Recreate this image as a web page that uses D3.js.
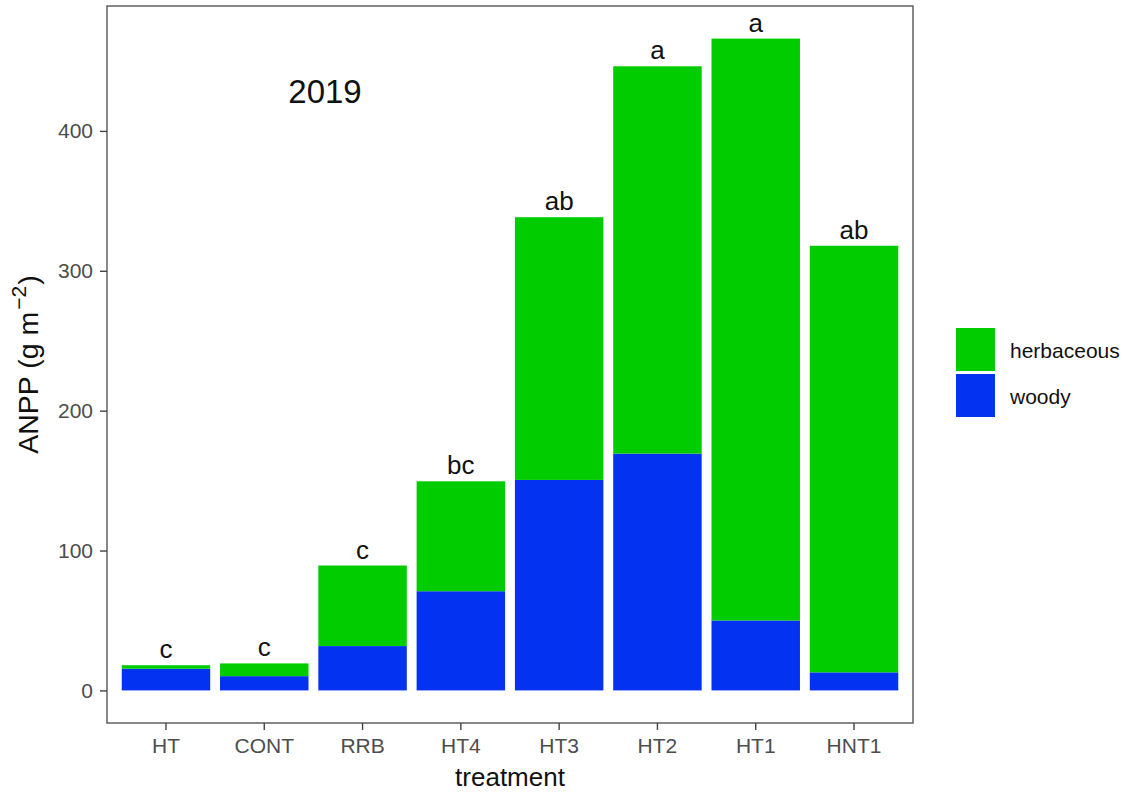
<!DOCTYPE html>
<html>
<head>
<meta charset="utf-8">
<script src="https://cdn.jsdelivr.net/npm/d3@7"></script>
<style>
  html, body { margin: 0; padding: 0; background: #fff; }
  svg { display: block; font-family: "Liberation Sans", Arial, Helvetica, sans-serif; }
</style>
</head>
<body>
<svg id="chart" width="1133" height="793"></svg>
<script>
// Treatments in plotting order
const treatments = ["HT", "CONT", "RRB", "HT4", "HT3", "HT2", "HT1", "HNT1"];
// ANPP components (g m-2)
const woody      = [15.5, 10.2, 31.7, 70.9, 150.5, 169.3, 50.0, 12.9];
const herbaceous = [2.5, 9.1, 57.6, 78.6, 187.8, 276.9, 416.0, 305.0];
// Significance letters above each bar
const letters = ["c", "c", "c", "bc", "ab", "a", "a", "ab"];
// Y-axis tick values
const yTicks = [0, 100, 200, 300, 400];
// Legend entries
const seriesNames = ["herbaceous", "woody"];
const seriesColors = { herbaceous: "#00cc00", woody: "#0332f0" };

const svg = d3.select("#chart");
const panel = { left: 107, right: 913, top: 6, bottom: 723 };

const rows = treatments.map((t, i) => ({
  treatment: t, woody: woody[i], herbaceous: herbaceous[i], letter: letters[i]
}));
const totals = rows.map(r => r.woody + r.herbaceous);
const maxTotal = d3.max(totals);

const x = d3.scaleBand()
  .domain(treatments)
  .range([panel.left, panel.right])
  .paddingInner(0.1)
  .paddingOuter(0.15);

const y = d3.scaleLinear()
  .domain([-0.05 * maxTotal, 1.05 * maxTotal])
  .range([panel.bottom, panel.top]);

// Stacked bars: woody at the bottom, herbaceous on top
const stack = d3.stack().keys(["woody", "herbaceous"]);
const layers = stack(rows);

svg.append("g").selectAll("g")
  .data(layers)
  .join("g")
  .attr("fill", d => seriesColors[d.key])
  .selectAll("rect")
  .data(d => d)
  .join("rect")
  .attr("x", d => x(d.data.treatment))
  .attr("width", x.bandwidth())
  .attr("y", d => y(d[1]))
  .attr("height", d => y(d[0]) - y(d[1]));

// Letters above bars
svg.append("g").selectAll("text")
  .data(rows)
  .join("text")
  .attr("x", d => x(d.treatment) + x.bandwidth() / 2)
  .attr("y", d => y(d.woody + d.herbaceous) - 7)
  .attr("text-anchor", "middle")
  .attr("font-size", 26)
  .attr("fill", "#111")
  .text(d => d.letter);

// Year annotation
svg.append("text")
  .attr("x", 325)
  .attr("y", 103)
  .attr("text-anchor", "middle")
  .attr("font-size", 33)
  .attr("fill", "#111")
  .text("2019");

// Panel border
svg.append("rect")
  .attr("x", panel.left)
  .attr("y", panel.top)
  .attr("width", panel.right - panel.left)
  .attr("height", panel.bottom - panel.top)
  .attr("fill", "none")
  .attr("stroke", "#555")
  .attr("stroke-width", 1.4);

// Axes
const yAxis = d3.axisLeft(y).tickValues(yTicks).tickSize(7).tickPadding(7);
const gy = svg.append("g").attr("transform", `translate(${panel.left},0)`).call(yAxis);
gy.select(".domain").remove();
gy.selectAll(".tick line").attr("stroke", "#444").attr("stroke-width", 1.4);
gy.selectAll(".tick text")
  .attr("font-size", 21)
  .attr("fill", "#4d4d4d")
  .attr("font-family", "Liberation Sans, Arial, sans-serif");

const xAxis = d3.axisBottom(x).tickSize(7).tickPadding(8);
const gx = svg.append("g").attr("transform", `translate(0,${panel.bottom})`).call(xAxis);
gx.select(".domain").remove();
gx.selectAll(".tick line").attr("stroke", "#444").attr("stroke-width", 1.4);
gx.selectAll(".tick text")
  .attr("font-size", 21)
  .attr("fill", "#4d4d4d")
  .attr("font-family", "Liberation Sans, Arial, sans-serif");

// Axis titles
svg.append("text")
  .attr("x", (panel.left + panel.right) / 2)
  .attr("y", 786)
  .attr("text-anchor", "middle")
  .attr("font-size", 26)
  .attr("fill", "#111")
  .text("treatment");

const yTitle = svg.append("text")
  .attr("transform", `translate(38,${(panel.top + panel.bottom) / 2}) rotate(-90)`)
  .attr("text-anchor", "middle")
  .attr("font-size", 28.5)
  .attr("fill", "#111");
yTitle.append("tspan").text("ANPP (g m");
yTitle.append("tspan").attr("font-size", 21).attr("dx", 2).attr("dy", -12).text("\u22122");
yTitle.append("tspan").attr("dx", 1).attr("dy", 12).text(")");

// Legend
const legend = svg.append("g").attr("transform", "translate(956,328)");
const keyH = 43, keyW = 39, keyGap = 3;
seriesNames.forEach((name, i) => {
  const g = legend.append("g").attr("transform", `translate(0,${i * (keyH + keyGap)})`);
  g.append("rect")
    .attr("width", keyW)
    .attr("height", keyH)
    .attr("fill", seriesColors[name]);
  g.append("text")
    .attr("x", 54)
    .attr("y", keyH / 2 + 8)
    .attr("font-size", 21)
    .attr("fill", "#111")
    .text(name);
});
</script>
</body>
</html>
